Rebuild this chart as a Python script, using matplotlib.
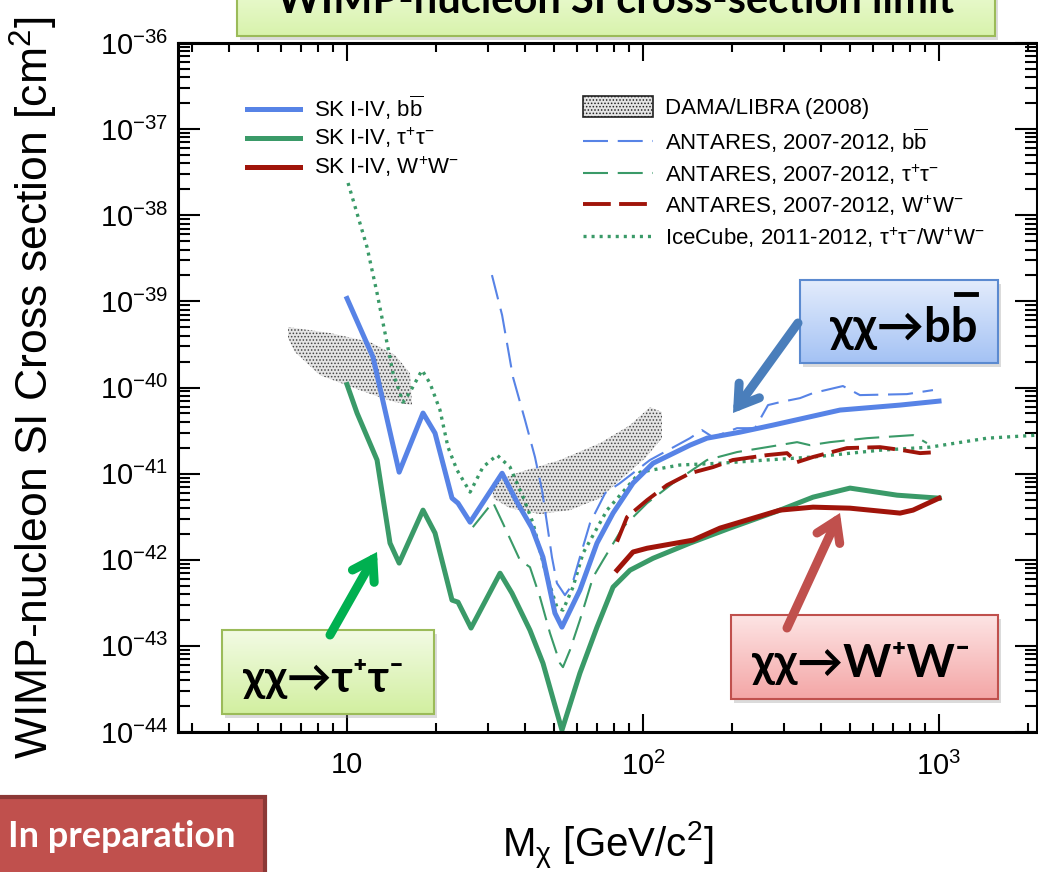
import numpy as np
import matplotlib.pyplot as plt
from matplotlib.colors import LinearSegmentedColormap
from matplotlib.patches import Polygon, Rectangle, Patch
from matplotlib.lines import Line2D
from matplotlib.ticker import FixedLocator, FixedFormatter, LogLocator, NullFormatter

plt.rcParams['font.family'] = ['Liberation Sans', 'DejaVu Sans']
plt.rcParams['mathtext.fontset'] = 'custom'
plt.rcParams['mathtext.rm'] = 'Liberation Sans'
plt.rcParams['mathtext.it'] = 'Liberation Sans:italic'
plt.rcParams['mathtext.bf'] = 'Liberation Sans:bold'
plt.rcParams['lines.scale_dashes'] = False
plt.rcParams['hatch.linewidth'] = 0.7

# --- SK I-IV 90% limits, WIMP mass [GeV] vs SI cross section [cm^2]
sk_bb_mass = [10.0, 12.24, 13.13, 15.0, 18.06, 19.83, 22.63, 23.71, 26.05, 33.41, 37.52,
              42.17, 45.92, 50.39, 53.22, 61.2, 69.9, 79.2, 92.5, 108.1, 144.1, 164.5,
              212.6, 274.9, 463.0, 738.4, 1000]
sk_bb_xsec = [1.08e-39, 2.25e-40, 7.74e-41, 1.04e-41, 5.05e-41, 2.95e-41, 5.19e-42, 4.54e-42,
              2.73e-42, 1.01e-41, 4.67e-42, 2.33e-42, 1.07e-42, 2.40e-43, 1.65e-43, 4.44e-43,
              1.56e-42, 3.48e-42, 7.76e-42, 1.32e-41, 2.14e-41, 2.58e-41, 3.03e-41, 3.66e-41,
              5.47e-41, 6.25e-41, 6.95e-41]

sk_tt_mass = [10.0, 10.81, 12.63, 13.97, 15.0, 18.06, 19.83, 22.63, 23.71, 26.24, 32.88,
              36.08, 41.5, 45.92, 53.22, 61.2, 69.9, 79.2, 90.4, 108.1, 144.1, 196.6,
              290.4, 375.2, 500.4, 721.6, 1000]
sk_tt_xsec = [1.08e-40, 5.05e-41, 1.44e-41, 1.56e-42, 9.14e-43, 3.77e-42, 2.04e-42, 3.40e-43,
              3.22e-43, 1.61e-43, 6.98e-43, 4.09e-43, 1.52e-43, 6.29e-44, 1.05e-44, 4.82e-44,
              1.65e-43, 4.81e-43, 7.57e-43, 1.04e-42, 1.56e-42, 2.33e-42, 3.77e-42, 5.33e-42,
              6.79e-42, 5.62e-42, 5.19e-42]

sk_ww_mass = [81.7, 92.5, 103.2, 147.5, 182.0, 290.4, 375.2, 500.4, 738.4, 817.2, 1000]
sk_ww_xsec = [7.57e-43, 1.23e-42, 1.36e-42, 1.69e-42, 2.33e-42, 3.77e-42, 4.08e-42, 3.97e-42,
              3.48e-42, 3.77e-42, 5.19e-42]

# --- ANTARES 2007-2012
ant_bb_mass = [30.87, 33.41, 36.36, 39.94, 43.14, 45.57, 47.37, 49.24, 51.18, 54.48, 57.52,
               61.2, 66.2, 74.5, 83.6, 105.6, 144.1, 158.2, 172.3, 207.8, 239.0, 264.4,
               290.4, 339.2, 375.2, 473.5, 540.5, 779.2, 954.0]
ant_bb_xsec = [2.02e-39, 6.93e-40, 1.32e-40, 4.18e-41, 1.56e-41, 6.43e-42, 2.66e-42, 1.07e-42,
               5.35e-43, 3.88e-43, 5.07e-43, 1.07e-42, 2.66e-42, 5.94e-42, 7.76e-42, 1.44e-41,
               2.58e-41, 3.20e-41, 2.65e-41, 3.37e-41, 3.37e-41, 6.25e-41, 6.76e-41, 7.53e-41,
               8.61e-41, 1.04e-40, 8.16e-41, 8.38e-41, 9.33e-41]

ant_tt_mass = [26.6, 31.1, 33.6, 38.39, 41.5, 44.86, 48.48, 52.4, 53.64, 56.63, 61.2, 67.8,
               73.3, 85.6, 103.2, 126.3, 164.5, 207.8, 262.3, 331.5, 366.6, 428.5, 571.1,
               817.2, 910.3]
ant_tt_xsec = [2.39e-42, 4.67e-42, 2.66e-42, 9.89e-43, 8.20e-43, 3.68e-43, 1.41e-43, 6.29e-44,
               5.66e-44, 8.91e-44, 1.99e-43, 6.28e-43, 9.89e-43, 2.39e-42, 4.54e-42, 7.76e-42,
               1.44e-41, 1.78e-41, 2.03e-41, 2.32e-41, 2.14e-41, 2.32e-41, 2.58e-41, 2.80e-41,
               2.26e-41]

ant_ww_mass = [81.7, 88.3, 103.2, 120.5, 144.1, 172.3, 201.2, 262.3, 306.5, 331.5, 375.2,
               488.7, 632.1, 755.4, 862.6, 992.0]
ant_ww_xsec = [1.62e-42, 3.13e-42, 4.92e-42, 7.35e-42, 1.01e-41, 1.19e-41, 1.44e-41, 1.64e-41,
               1.73e-41, 1.36e-41, 1.56e-41, 1.98e-41, 2.03e-41, 1.87e-41, 1.73e-41, 1.78e-41]

# --- IceCube 2011-2012
ic_mass = [10.08, 11.68, 12.63, 13.44, 14.30, 15.46, 16.32, 17.92, 19.07, 20.61, 21.93, 23.53,
           26.05, 28.78, 32.12, 35.54, 39.34, 42.5, 46.64, 51.18, 53.64, 58.0, 62.7, 75.6,
           97.7, 133.3, 182.0, 262.3, 375.2, 632.1, 932.3, 1454, 2158]
ic_xsec = [2.37e-38, 4.28e-39, 1.25e-39, 4.29e-40, 1.47e-40, 6.76e-41, 8.85e-41, 1.59e-40,
           1.12e-40, 5.47e-41, 2.03e-41, 1.10e-41, 6.10e-42, 1.19e-41, 1.64e-41, 1.19e-41,
           5.33e-42, 2.66e-42, 7.57e-43, 2.81e-43, 2.60e-43, 4.81e-43, 1.19e-42, 3.77e-42,
           1.04e-41, 1.26e-41, 1.32e-41, 1.44e-41, 1.56e-41, 1.87e-41, 2.03e-41, 2.58e-41,
           2.80e-41]

# --- DAMA/LIBRA (2008) allowed regions (outline)
dama_low_mass = [6.32, 8.76, 11.96, 14.53, 16.32, 16.58, 14.53, 11.50, 8.10, 6.67, 6.32]
dama_low_xsec = [5.04e-40, 4.29e-40, 3.37e-40, 2.38e-40, 1.47e-40, 6.25e-41, 6.76e-41,
                 8.85e-41, 1.39e-40, 2.58e-40, 3.75e-40]
dama_high_mass = [31.1, 38.39, 52.4, 71.6, 90.4, 105.6, 115.9, 115.9, 101.6, 83.6, 71.6,
                  56.63, 44.86, 35.54, 31.1]
dama_high_xsec = [7.96e-42, 1.04e-41, 1.44e-41, 2.26e-41, 3.66e-41, 5.92e-41, 5.18e-41,
                  2.58e-41, 1.51e-41, 8.41e-42, 5.19e-42, 3.77e-42, 3.39e-42, 3.97e-42, 5.19e-42]

x_ticks = [10, 100, 1000]
x_tick_labels = ['10', '10$^{2}$', '10$^{3}$']
y_exponents = list(range(-44, -35))

blue = '#5783e6'
green = '#3a9a68'
red = '#a0140a'

W, H = 1038, 872
fig = plt.figure(figsize=(W / 100, H / 100), dpi=100)
ax = fig.add_axes([178 / W, 1 - 732 / H, (1037 - 178) / W, 689 / H])
ax.set_xscale('log')
ax.set_yscale('log')
ax.set_xlim(2.685, 2143)
ax.set_ylim(1e-44, 1e-36)

dama_style = dict(facecolor='#e4e4e4', edgecolor='#444444', hatch='.....', linewidth=0)
ax.add_patch(Polygon(np.column_stack([dama_low_mass, dama_low_xsec]), **dama_style))
ax.add_patch(Polygon(np.column_stack([dama_high_mass, dama_high_xsec]), **dama_style))

dash_thin = (0, (18, 7))
dash_thick = (0, (20, 6))
dots = (0, (2.2, 3.6))
ax.plot(ic_mass, ic_xsec, color=green, lw=2.4, ls=dots, dash_capstyle='butt')
ax.plot(ant_bb_mass, ant_bb_xsec, color=blue, lw=1.5, ls=dash_thin)
ax.plot(ant_tt_mass, ant_tt_xsec, color=green, lw=1.5, ls=dash_thin)
ax.plot(ant_ww_mass, ant_ww_xsec, color=red, lw=2.8, ls=dash_thick)
ax.plot(sk_tt_mass, sk_tt_xsec, color=green, lw=3.6)
ax.plot(sk_ww_mass, sk_ww_xsec, color=red, lw=3.6)
ax.plot(sk_bb_mass, sk_bb_xsec, color=blue, lw=3.6)

# axes frame and ticks
for s in ax.spines.values():
    s.set_linewidth(2.2)
ax.xaxis.set_major_locator(FixedLocator(x_ticks))
ax.xaxis.set_major_formatter(FixedFormatter(x_tick_labels))
ax.xaxis.set_minor_locator(LogLocator(base=10, subs=range(2, 10), numticks=20))
ax.xaxis.set_minor_formatter(NullFormatter())
ax.yaxis.set_major_locator(FixedLocator([10.0 ** e for e in y_exponents]))
ax.yaxis.set_major_formatter(FixedFormatter(['10$^{%d}$' % e for e in y_exponents]))
ax.yaxis.set_minor_locator(LogLocator(base=10, subs=range(2, 10), numticks=20))
ax.yaxis.set_minor_formatter(NullFormatter())
ax.tick_params(which='both', direction='in', top=True, right=True, width=1.5)
ax.tick_params(axis='x', which='major', length=13, labelsize=21, pad=14)
ax.tick_params(axis='x', which='minor', length=6.5)
ax.tick_params(axis='y', which='major', length=16, labelsize=21, pad=7)
ax.tick_params(axis='y', which='minor', length=8.5)

ax.set_xlabel('M$_{\\mathrm{χ}}$ [GeV/c$^{2}$]', fontsize=29, labelpad=28)
ax.set_ylabel('WIMP-nucleon SI Cross section [cm$^{2}$]', fontsize=32)
ax.yaxis.set_label_coords(-0.137, 0.5)

# legends
h1 = [Line2D([], [], color=blue, lw=3.6), Line2D([], [], color=green, lw=3.6),
      Line2D([], [], color=red, lw=3.6)]
l1 = ['SK I-IV, b$\\overline{\\mathrm{b}}$', 'SK I-IV, τ$^{+}$τ$^{-}$',
      'SK I-IV, W$^{+}$W$^{-}$']
leg1 = ax.legend(h1, l1, loc='upper left', bbox_to_anchor=(247 / W, 1 - 93 / H),
                 bbox_transform=fig.transFigure, frameon=False, fontsize=16,
                 handlelength=2.4, handletextpad=0.6, labelspacing=0.2,
                 borderpad=0, borderaxespad=0)
ax.add_artist(leg1)

h2 = [Patch(facecolor='#e4e4e4', edgecolor='#222222', hatch='.....', linewidth=1.2),
      Line2D([], [], color=blue, lw=1.5, ls=dash_thin),
      Line2D([], [], color=green, lw=1.5, ls=dash_thin),
      Line2D([], [], color=red, lw=2.8, ls=dash_thick),
      Line2D([], [], color=green, lw=2.4, ls=dots)]
l2 = ['DAMA/LIBRA (2008)', 'ANTARES, 2007-2012, b$\\overline{\\mathrm{b}}$',
      'ANTARES, 2007-2012, τ$^{+}$τ$^{-}$', 'ANTARES, 2007-2012, W$^{+}$W$^{-}$',
      'IceCube, 2011-2012, τ$^{+}$τ$^{-}$/W$^{+}$W$^{-}$']
ax.legend(h2, l2, loc='upper left', bbox_to_anchor=(583 / W, 1 - 96 / H),
          bbox_transform=fig.transFigure, frameon=False, fontsize=16,
          handlelength=3.15, handleheight=1.05, handletextpad=0.55, labelspacing=0.33,
          borderpad=0, borderaxespad=0)

# slide annotations drawn on a pixel-space overlay
ov = fig.add_axes([0, 0, 1, 1])
ov.patch.set_alpha(0)
ov.axis('off')
bold = dict(family=['Lato', 'DejaVu Sans'], weight='bold', color='black')


def grad_box(x0, y0, x1, y1, top, bottom, edge, lw=1.5):
    cmap = LinearSegmentedColormap.from_list('g', [top, bottom])
    ov.add_patch(Rectangle((x0 + 3, y0 + 4), x1 - x0, y1 - y0, color='#999999',
                           alpha=0.35, lw=0, zorder=2))
    ov.imshow(np.linspace(0, 1, 100).reshape(-1, 1), extent=(x0, x1, y1, y0),
              cmap=cmap, aspect='auto', zorder=3)
    ov.add_patch(Rectangle((x0, y0), x1 - x0, y1 - y0, fill=False, ec=edge, lw=lw,
                           zorder=4))


grad_box(237, -20, 995, 36, '#eefbd8', '#d8f3ac', '#9bbb59')
ov.text(616, 13, 'WIMP-nucleon SI cross-section limit', ha='center', va='baseline',
        fontsize=30, zorder=5, **bold)

grad_box(800, 280, 998, 363, '#e3ecfc', '#a4c2f4', '#5b8ad0')
ov.text(978, 342, 'χχ→bb', ha='right', va='baseline', fontsize=34, zorder=5, **bold)
ov.plot([956, 976], [294, 294], color='black', lw=3.5, zorder=5)

grad_box(222, 630, 434, 714, '#f2fbe4', '#d2efa0', '#9bbb59')
ov.text(243, 692, 'χχ→τ⁺τ⁻', ha='left', va='baseline', fontsize=32, zorder=5, **bold)

grad_box(731, 615, 998, 699, '#fde4e4', '#f4a6a6', '#c0504d')
ov.text(752, 677, 'χχ→W⁺W⁻', ha='left', va='baseline', fontsize=33, zorder=5, **bold)

ov.add_patch(Rectangle((-20, 797), 285, 100, facecolor='#c0504d', edgecolor='#8c3836',
                       lw=3, zorder=3))
ov.text(236, 847, 'In preparation', ha='right', va='baseline', fontsize=26, zorder=5,
        family=['Lato', 'DejaVu Sans'], weight='bold', color='white')

for tail, head, col in [((798, 323), (733, 413), '#4a7ebb'),
                        ((330, 635), (377, 552), '#00b050'),
                        ((787, 628), (840, 513), '#c0504d')]:
    ov.annotate('', xy=head, xytext=tail, zorder=6,
                arrowprops=dict(arrowstyle='->,head_length=1.4,head_width=0.9',
                                color=col, lw=6.5, shrinkA=0, shrinkB=0,
                                capstyle='round', joinstyle='miter'))

ov.set_xlim(0, W)
ov.set_ylim(H, 0)

fig.savefig('out.png', dpi=100)
